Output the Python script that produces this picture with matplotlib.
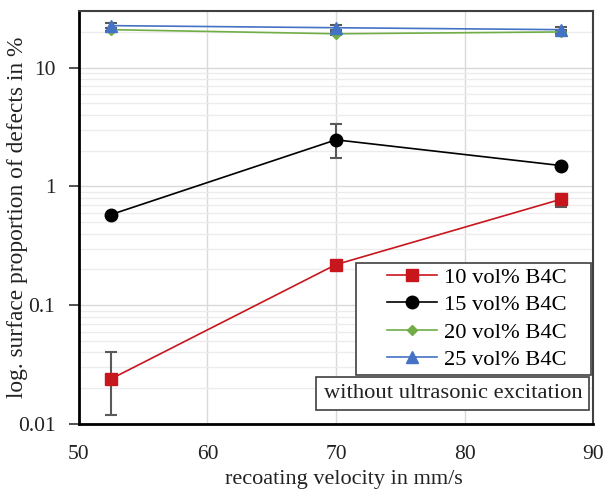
import matplotlib.pyplot as plt
from matplotlib.patches import Rectangle

plt.rcParams['font.family'] = ['Liberation Serif', 'DejaVu Serif']
plt.rcParams['font.size'] = 16

velocity = [52.5, 70, 87.5]
b4c_10 = [0.024, 0.22, 0.78]
b4c_10_err_lo = [0.012, 0.0, 0.11]
b4c_10_err_hi = [0.016, 0.0, 0.0]
b4c_15 = [0.58, 2.47, 1.5]
b4c_15_err_lo = [0.0, 0.73, 0.0]
b4c_15_err_hi = [0.0, 0.9, 0.0]
b4c_20 = [20.9, 19.3, 20.0]
b4c_25 = [22.6, 21.7, 20.9]
b4c_25_err = [1.0, 1.0, 1.0]

fig = plt.figure(figsize=(6.12, 4.92), dpi=100)
ax = fig.add_axes([0.129, 0.1382, 0.840, 0.8394])

ebkw = dict(fmt='none', ecolor='#595959', elinewidth=1.5, capsize=4, capthick=1.5, zorder=2)
ax.errorbar(velocity, b4c_10, yerr=[b4c_10_err_lo, b4c_10_err_hi], **ebkw)
ax.errorbar(velocity, b4c_15, yerr=[b4c_15_err_lo, b4c_15_err_hi], **ebkw)
ax.errorbar(velocity, b4c_20, yerr=[[0.6] * 3, [0.6] * 3], **ebkw)
ax.errorbar(velocity, b4c_25, yerr=b4c_25_err, **ebkw)

ax.plot(velocity, b4c_10, color='#c8161d', marker='s', markersize=9, linewidth=1.2,
        label='10 vol% B4C', zorder=3)
ax.plot(velocity, b4c_15, color='black', marker='o', markersize=9, linewidth=1.2,
        label='15 vol% B4C', zorder=3)
ax.plot(velocity, b4c_20, color='#70ad47', marker='D', markersize=5.5, linewidth=1.2,
        label='20 vol% B4C', zorder=3)
ax.plot(velocity, b4c_25, color='#4472c4', marker='^', markersize=9, linewidth=1.2,
        label='25 vol% B4C', zorder=4)

ax.set_yscale('log')
ax.set_xlim(50, 90)
ax.set_ylim(0.01, 30)
ax.set_yticks([0.01, 0.1, 1, 10])
ax.set_yticklabels(['0.01', '0.1', '1', '10'])
ax.set_xticks([50, 60, 70, 80, 90])
ax.grid(True, which='major', color='#d9d9d9', linewidth=1)
ax.grid(True, which='minor', axis='y', color='#ececec', linewidth=1)
ax.set_axisbelow(True)
ax.tick_params(axis='y', which='major', length=7, width=1.2, color='#333333',
               labelsize=15.5, pad=10, labelcolor='#222222')
ax.tick_params(axis='x', which='major', length=0, labelsize=15.5, pad=15,
               labelcolor='#222222')
ax.tick_params(which='minor', length=0)
for side in ['left', 'bottom']:
    ax.spines[side].set_color('black')
    ax.spines[side].set_linewidth(2)
for side in ['top', 'right']:
    ax.spines[side].set_color('#404040')
    ax.spines[side].set_linewidth(1.5)

ax.set_xlabel('recoating velocity in mm/s', fontsize=16, color='#222222')
ax.xaxis.set_label_coords(0.516, -0.112)
ax.set_ylabel('log. surface proportion of defects in %', fontsize=16.8, color='#222222')
ax.yaxis.set_label_coords(-0.099, 0.5)

# legend without own frame; Excel-style frame drawn as a rectangle
leg = ax.legend(loc='lower right', bbox_to_anchor=(0.957, 0.119), frameon=False,
                fontsize=16.2, handlelength=2.2, handletextpad=0.3, borderpad=0.2,
                labelspacing=0.3, borderaxespad=0)
ax.add_patch(Rectangle((0.538, 0.119), 0.458, 0.271, transform=ax.transAxes,
                       facecolor='white', edgecolor='#404040', linewidth=1.2, zorder=5))
leg.set_zorder(6)

ax.text(0.728, 0.0745, 'without ultrasonic excitation', transform=ax.transAxes,
        ha='center', va='center', fontsize=16.2, color='#222222', zorder=7)
ax.add_patch(Rectangle((0.462, 0.034), 0.530, 0.080, transform=ax.transAxes,
                       facecolor='white', edgecolor='#404040', linewidth=1.2, zorder=6))

fig.savefig('out.png', dpi=100)
